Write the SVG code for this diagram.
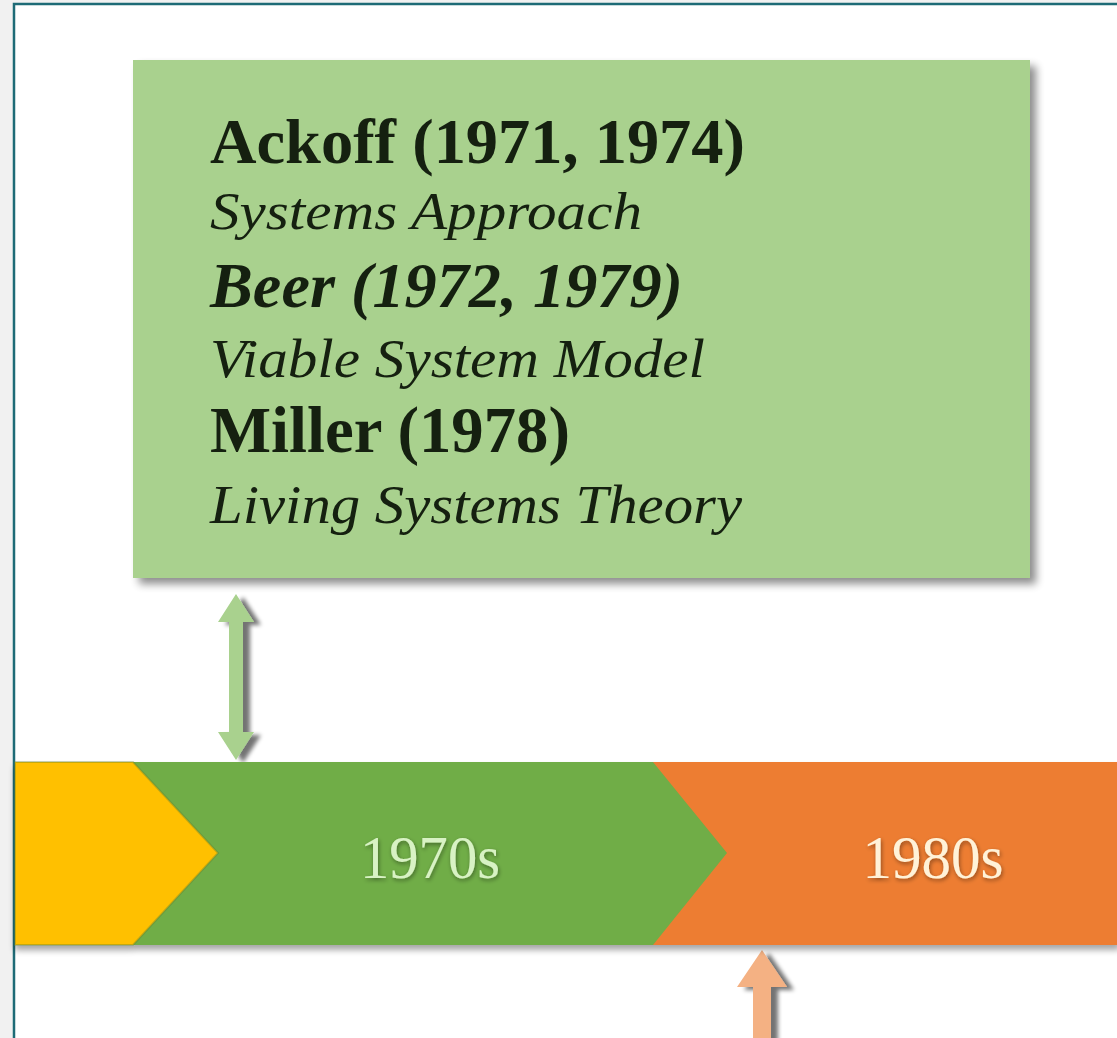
<svg xmlns="http://www.w3.org/2000/svg" width="1117" height="1038" viewBox="0 0 1117 1038">
<defs>
<filter id="sh" x="-10%" y="-10%" width="130%" height="130%">
<feGaussianBlur in="SourceAlpha" stdDeviation="4"/>
<feOffset dx="6" dy="6" result="b"/>
<feComponentTransfer><feFuncA type="linear" slope="0.45"/></feComponentTransfer>
<feMerge><feMergeNode/><feMergeNode in="SourceGraphic"/></feMerge>
</filter>
<filter id="bsh" x="-5%" y="-10%" width="110%" height="130%">
<feGaussianBlur in="SourceAlpha" stdDeviation="3"/>
<feOffset dx="0" dy="5" result="b"/>
<feComponentTransfer><feFuncA type="linear" slope="0.35"/></feComponentTransfer>
<feMerge><feMergeNode/><feMergeNode in="SourceGraphic"/></feMerge>
</filter>
<filter id="ash" x="-50%" y="-10%" width="200%" height="130%">
<feGaussianBlur in="SourceAlpha" stdDeviation="2"/>
<feOffset dx="7" dy="3" result="b"/>
<feComponentTransfer><feFuncA type="linear" slope="0.55"/></feComponentTransfer>
<feMerge><feMergeNode/><feMergeNode in="SourceGraphic"/></feMerge>
</filter>
<filter id="glow" x="-20%" y="-40%" width="140%" height="180%">
<feGaussianBlur in="SourceAlpha" stdDeviation="2"/>
<feOffset dx="1" dy="2" result="b"/>
<feComponentTransfer><feFuncA type="linear" slope="0.4"/></feComponentTransfer>
<feMerge><feMergeNode/><feMergeNode in="SourceGraphic"/></feMerge>
</filter>
</defs>
<style>
.t{font-family:"Liberation Serif","Times New Roman",serif;fill:#152010}
.b{font-weight:bold}
.i{font-style:italic}
.yr{font-family:"Liberation Serif","Times New Roman",serif;font-size:62px}
</style>
<rect x="0" y="0" width="1117" height="1038" fill="#f1f1f1"/>
<rect x="14" y="4" width="1200" height="1100" fill="#ffffff" stroke="#1e6b76" stroke-width="2.5"/>

<g id="connectors">
<g filter="url(#ash)">
<path d="M236,594 L254,622 L243,622 L243,732 L254,732 L236,760 L218,732 L229,732 L229,622 L218,622 Z" fill="#a9d18e"/>
</g>
<g filter="url(#ash)">
<path d="M762,950 L787,987 L771,987 L771,1045 L753,1045 L753,987 L737,987 Z" fill="#f4b183"/>
</g>
</g>

<g id="box-1970s">
<rect x="133" y="60" width="897" height="518" fill="#a9d18e" filter="url(#sh)"/>
<text class="t b" x="210" y="163" font-size="64" textLength="535" lengthAdjust="spacingAndGlyphs">Ackoff (1971, 1974)</text>
<text class="t i" x="210" y="229" font-size="53" textLength="432" lengthAdjust="spacingAndGlyphs">Systems Approach</text>
<text class="t b i" x="210" y="307" font-size="64" textLength="473" lengthAdjust="spacingAndGlyphs">Beer (1972, 1979)</text>
<text class="t i" x="210" y="377" font-size="54" textLength="495" lengthAdjust="spacingAndGlyphs">Viable System Model</text>
<text class="t b" x="210" y="452" font-size="66" textLength="360" lengthAdjust="spacingAndGlyphs">Miller (1978)</text>
<text class="t i" x="210" y="523" font-size="55" textLength="532" lengthAdjust="spacingAndGlyphs">Living Systems Theory</text>
</g>

<g id="timeline" filter="url(#bsh)">
<g id="seg-1980s">
<rect x="640" y="762" width="480" height="183" fill="#ed7d31"/>
</g>
<g id="seg-1970s">
<path d="M120,762 L653,762 L727,853 L653,945 L120,945 Z" fill="#70ad47"/>
</g>
<g id="seg-1960s">
<path d="M15,762 L133,762 L218,853 L133,945 L15,945 Z" fill="#ffc000" stroke="#5a7a30" stroke-opacity="0.35" stroke-width="2"/>
</g>
</g>
<g id="labels">
<text class="yr" x="430" y="878" text-anchor="middle" fill="#d8f2c4" filter="url(#glow)" textLength="140" lengthAdjust="spacingAndGlyphs">1970s</text>
<text class="yr" x="933" y="878" text-anchor="middle" fill="#fff2d8" filter="url(#glow)" textLength="141" lengthAdjust="spacingAndGlyphs">1980s</text>
</g>
</svg>
